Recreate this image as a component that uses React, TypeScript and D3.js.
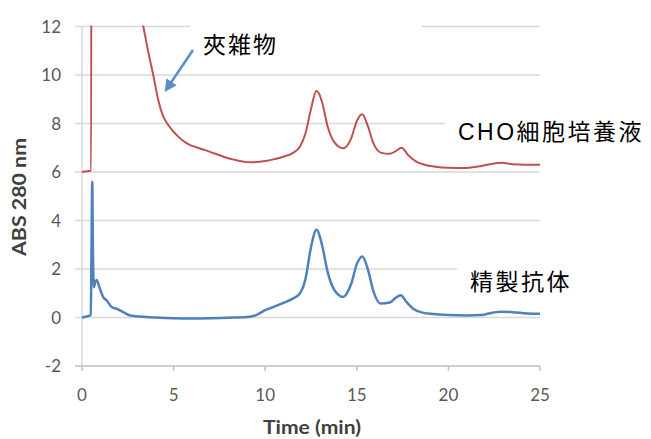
import React from "react";
import * as d3 from "d3";

const W = 651;
const H = 439;

const xTicks = [0, 5, 10, 15, 20, 25];
const yTicks = [-2, 0, 2, 4, 6, 8, 10, 12];

// CHO cell culture supernatant (red)
const choTime = [0, 0.3, 0.47, 0.5, 0.52, 2, 3, 3.35, 3.71, 3.89, 4.16, 4.44, 4.71, 5.17, 5.72, 6.44, 6.88, 8.08, 9.17, 10, 10.5, 11, 11.5, 11.9, 12.2, 12.5, 12.8, 13.1, 13.4, 13.8, 14.25, 14.7, 15.0, 15.3, 15.6, 15.9, 16.3, 16.8, 17.1, 17.45, 17.8, 18.2, 18.7, 19.3, 20, 21, 21.8, 22.5, 22.9, 23.5, 24.2, 25];
const choAbs = [6.0, 6.03, 6.05, 6.05, 25, 18, 13.4, 12, 10.62, 10.0, 8.97, 8.28, 7.94, 7.52, 7.18, 6.97, 6.86, 6.55, 6.4, 6.45, 6.53, 6.63, 6.78, 7.05, 7.6, 8.6, 9.35, 8.9, 7.9, 7.2, 6.98, 7.4, 8.1, 8.38, 7.9, 7.2, 6.8, 6.75, 6.85, 7.0, 6.7, 6.45, 6.3, 6.22, 6.18, 6.17, 6.25, 6.35, 6.38, 6.32, 6.3, 6.3];

// Purified antibody (blue)
const abTime = [0, 0.3, 0.48, 0.52, 0.56, 0.6, 0.65, 0.72, 0.8, 0.95, 1.16, 1.35, 1.62, 1.89, 2.25, 2.62, 3.5, 4, 5, 6, 7, 8, 9, 9.5, 10, 10.5, 11, 11.5, 11.9, 12.2, 12.5, 12.8, 13.1, 13.4, 13.8, 14.25, 14.7, 15.0, 15.3, 15.6, 15.9, 16.3, 16.8, 17.1, 17.4, 17.7, 18.1, 18.6, 19.2, 20, 21, 21.8, 22.4, 22.9, 23.5, 24.3, 25];
const abAbs = [0, 0.05, 0.1, 3, 5.6, 2.5, 1.25, 1.45, 1.55, 1.25, 0.84, 0.7, 0.43, 0.36, 0.22, 0.08, 0.02, 0.0, -0.03, -0.04, -0.03, -0.01, 0.02, 0.1, 0.3, 0.45, 0.6, 0.78, 1.0, 1.6, 2.9, 3.62, 3.0, 1.9, 1.1, 0.85, 1.4, 2.2, 2.52, 2.0, 1.1, 0.58, 0.62, 0.8, 0.92, 0.65, 0.35, 0.2, 0.14, 0.1, 0.08, 0.1, 0.2, 0.24, 0.22, 0.17, 0.15];

const labels = ["夾雑物", "CHO細胞培養液", "精製抗体"];
const yTitle = "ABS 280 nm";
const xTitle = "Time (min)";

export default function App() {
  const x = d3.scaleLinear().domain([0, 25]).range([82, 540]);
  const y = d3.scaleLinear().domain([-2, 12]).range([366, 26.5]);
  const line = d3
    .line<[number, number]>()
    .x((d) => x(d[0]))
    .y((d) => y(d[1]))
    .curve(d3.curveMonotoneX);
  const choPts = choTime.map((t, i) => [t, choAbs[i]] as [number, number]);
  const abPts = abTime.map((t, i) => [t, abAbs[i]] as [number, number]);
  const tickFont = "Lato, 'Open Sans', sans-serif";
  const jp = "'Liberation Sans', 'Noto Sans CJK JP', sans-serif";

  return (
    <svg width={W} height={H} style={{ position: "absolute", left: 0, top: 0, background: "#fff" }}>
      <defs>
        <clipPath id="plotClip">
          <rect x={70} y={y(12) - 1} width={480} height={y(-2) - y(12) + 2} />
        </clipPath>
        <marker id="arrowHead" viewBox="0 0 10 10" refX="8" refY="5" markerWidth="5" markerHeight="5" orient="auto">
          <path d="M0,0 L10,5 L0,10 z" fill="#5b8fc9" />
        </marker>
      </defs>
      {/* gridlines */}
      {yTicks.filter((v) => v !== -2).map((v) => (
        <line key={v} x1={75} x2={540} y1={y(v)} y2={y(v)} stroke="#d9d9d9" strokeWidth={1.5} />
      ))}
      {/* axes */}
      <line x1={x(0)} x2={x(0)} y1={y(12)} y2={y(-2)} stroke="#d9d9d9" strokeWidth={1.5} />
      <line x1={75} x2={540} y1={y(-2)} y2={y(-2)} stroke="#bfbfbf" strokeWidth={1.5} />
      {xTicks.map((v) => (
        <line key={v} x1={x(v)} x2={x(v)} y1={y(-2)} y2={y(-2) + 5} stroke="#bfbfbf" strokeWidth={1.5} />
      ))}
      {/* white label boxes */}
      <rect x={190} y={0} width={232} height={70} fill="#fff" />
      <rect x={445} y={100} width={206} height={50} fill="#fff" />
      <rect x={457} y={255} width={194} height={45} fill="#fff" />
      {/* tick labels */}
      {yTicks.map((v) => (
        <text key={v} x={61} y={y(v)} dy="0.36em" textAnchor="end" fontSize={17} fill="#595959" fontFamily={tickFont}>
          {v}
        </text>
      ))}
      {xTicks.map((v) => (
        <text key={v} x={x(v)} y={401} textAnchor="middle" fontSize={17} fill="#595959" fontFamily={tickFont}>
          {v}
        </text>
      ))}
      <text x={312} y={434} textAnchor="middle" fontSize={18} fontWeight="bold" fill="#404040" fontFamily={tickFont} textLength={98} lengthAdjust="spacingAndGlyphs">
        {xTitle}
      </text>
      <text transform={`translate(26,197) rotate(-90)`} textAnchor="middle" fontSize={18} fontWeight="bold" fill="#404040" fontFamily={tickFont} textLength={118} lengthAdjust="spacingAndGlyphs">
        {yTitle}
      </text>
      {/* series */}
      <g clipPath="url(#plotClip)">
        <path d={line(choPts) || ""} fill="none" stroke="#c0504d" strokeWidth={2} />
        <path d={line(abPts) || ""} fill="none" stroke="#4f81bd" strokeWidth={2.5} />
      </g>
      {/* arrow */}
      <line x1={193} y1={50} x2={166} y2={90} stroke="#5b8fc9" strokeWidth={2.5} markerEnd="url(#arrowHead)" />
      {/* annotations */}
      <text x={203} y={53} fontSize={23} letterSpacing={2} fill="#000" fontFamily={jp}>{labels[0]}</text>
      <text x={458} y={140} fontSize={23} letterSpacing={2.5} fill="#000" fontFamily={jp}>{labels[1]}</text>
      <text x={470} y={290} fontSize={23} letterSpacing={2.5} fill="#000" fontFamily={jp}>{labels[2]}</text>
    </svg>
  );
}
